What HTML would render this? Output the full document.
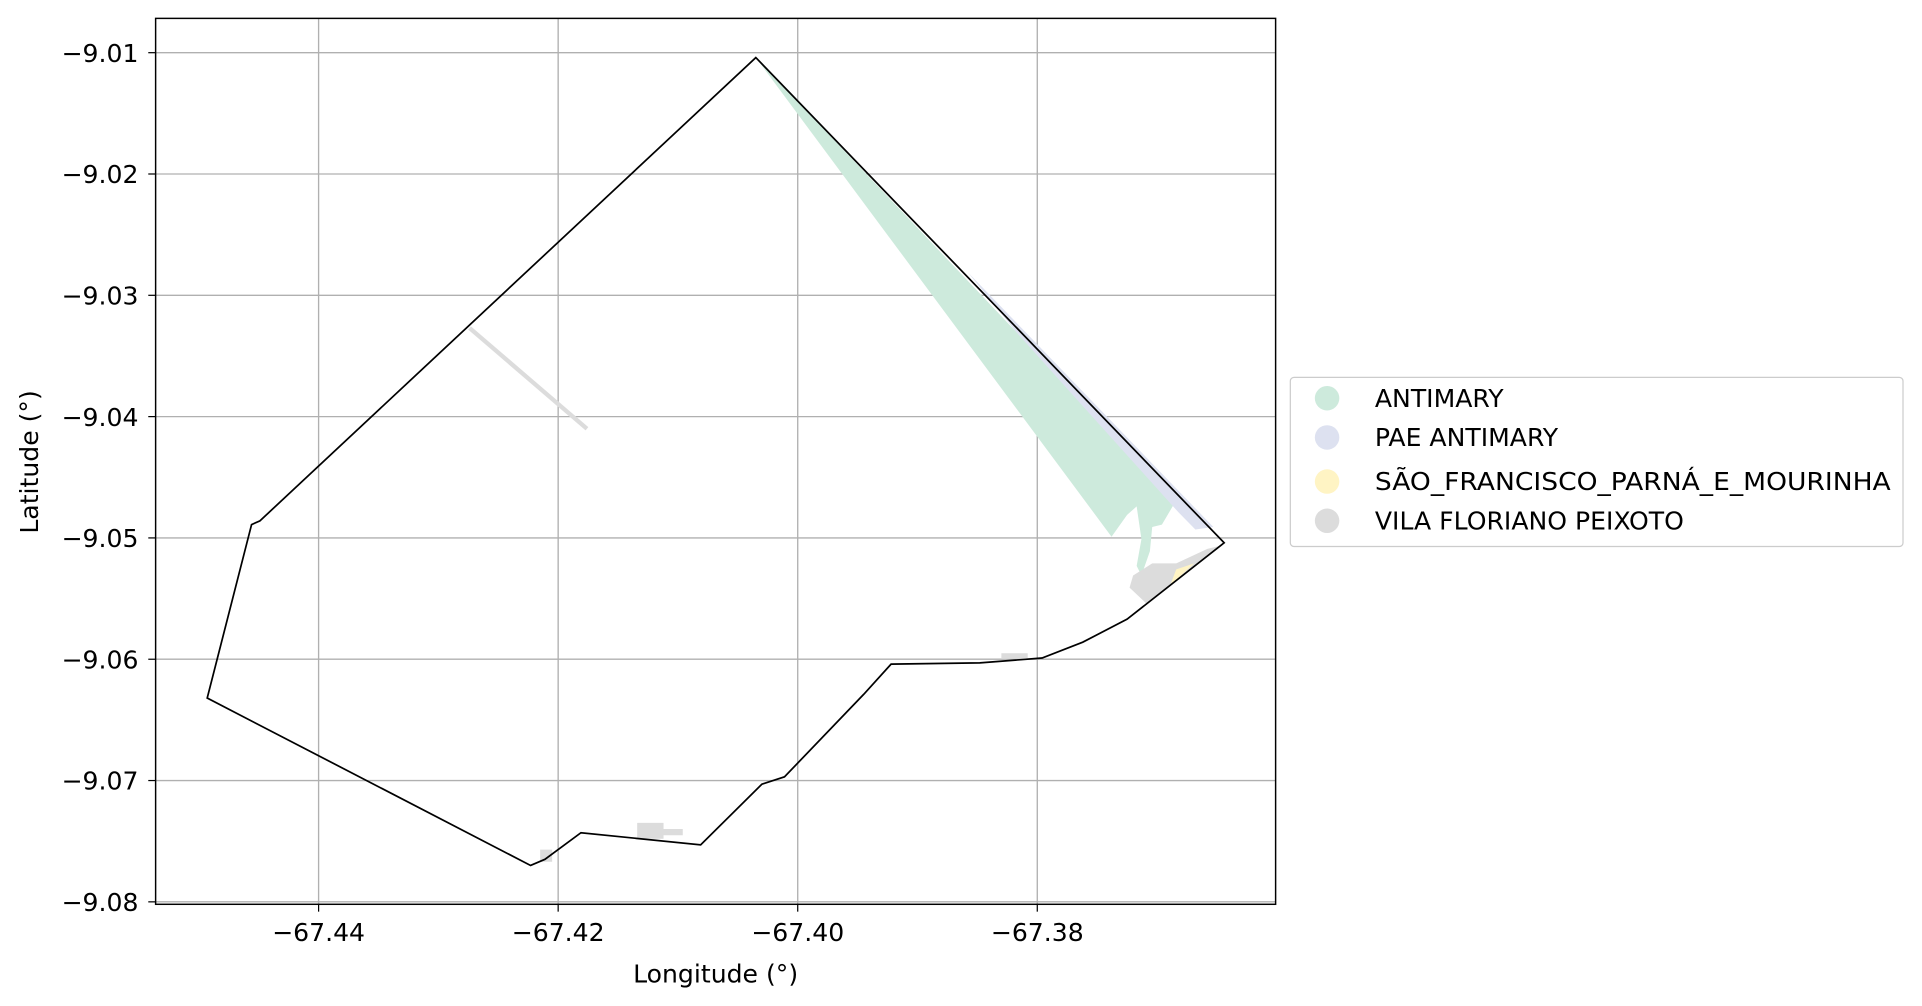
<!DOCTYPE html>
<html><head><meta charset="utf-8"><style>
html,body{margin:0;padding:0;background:#fff;}
svg{display:block;font-family:"DejaVu Sans","Liberation Sans",sans-serif;}
</style></head><body>
<svg id="chart" width="1922" height="1006" viewBox="0 0 1568.5 821" preserveAspectRatio="none" xmlns="http://www.w3.org/2000/svg">
<g id="grid"></g>
<g id="areas"></g>
<g id="ticks"></g>
<rect x="127" y="15" width="914" height="723" fill="none" stroke="#000" stroke-width="1.2"/>
<text x="584" y="802" font-size="20.5" text-anchor="middle">Longitude (°)</text>
<text transform="translate(31,377) rotate(-90)" font-size="20.5" text-anchor="middle">Latitude (°)</text>
<g>
<rect x="1053" y="308" width="500" height="138" rx="3" fill="#fff" stroke="#ccc"/>
<g><circle cx="1083" cy="325" r="10" fill="#cdeadc"/><text x="1122" y="332" font-size="20.5">ANTIMARY</text></g>
<g><circle cx="1083" cy="357" r="10" fill="#dde1f0"/><text x="1122" y="364" font-size="20.5">PAE ANTIMARY</text></g>
<g><circle cx="1083" cy="393" r="10" fill="#fff4c4"/><text x="1122" y="400" font-size="20.5" textLength="421" lengthAdjust="spacingAndGlyphs">SÃO_FRANCISCO_PARNÁ_E_MOURINHA</text></g>
<g><circle cx="1083" cy="425" r="10" fill="#dcdcdc"/><text x="1122" y="432" font-size="20.5">VILA FLORIANO PEIXOTO</text></g>
</g>
</svg>
<script>
const xTicks=[-67.44,-67.42,-67.40,-67.38];
const xTickLabels=["−67.44","−67.42","−67.40","−67.38"];
const yTicks=[-9.01,-9.02,-9.03,-9.04,-9.05,-9.06,-9.07,-9.08];
const yTickLabels=["−9.01","−9.02","−9.03","−9.04","−9.05","−9.06","−9.07","−9.08"];
const boundaryLon=[-67.4035,-67.3644,-67.3725,-67.3762,-67.3796,-67.3848,-67.3922,-67.3945,-67.4011,-67.4030,-67.4081,-67.4181,-67.4211,-67.4223,-67.4493,-67.4456,-67.4449];
const boundaryLat=[-9.0104,-9.0504,-9.0567,-9.0586,-9.0599,-9.0603,-9.0604,-9.0629,-9.0697,-9.0703,-9.0753,-9.0743,-9.0765,-9.0770,-9.0632,-9.0489,-9.0486];
const antimaryLon=[-67.4035,-67.3684,-67.3696,-67.3704,-67.3706,-67.3713,-67.3717,-67.3713,-67.3717,-67.3725,-67.3738];
const antimaryLat=[-9.0104,-9.0469,-9.0489,-9.0491,-9.0511,-9.0531,-9.0523,-9.0501,-9.0474,-9.0481,-9.0499];
const paeLon=[-67.3858,-67.3653,-67.3668,-67.3682,-67.3817];
const paeLat=[-9.0281,-9.0491,-9.0493,-9.0479,-9.0331];
const saoLon=[-67.3689,-67.3669,-67.3684];
const saoLat=[-9.0539,-9.0521,-9.0526];
const vilaLon=[-67.3720,-67.3704,-67.3684,-67.3658,-67.3645,-67.3689,-67.3709,-67.3723];
const vilaLat=[-9.0531,-9.0521,-9.0521,-9.0509,-9.0506,-9.0539,-9.0554,-9.0541];
const vilaLineLon=[-67.4274,-67.4176];
const vilaLineLat=[-9.0327,-9.0410];
const vilaBitsLon=[[-67.4215,-67.4205,-67.4205,-67.4215],[-67.4134,-67.4112,-67.4112,-67.4134],[-67.4118,-67.4096,-67.4096,-67.4118],[-67.3830,-67.3808,-67.3808,-67.3830]];
const vilaBitsLat=[[-9.0757,-9.0757,-9.0767,-9.0767],[-9.0735,-9.0735,-9.0748,-9.0748],[-9.0740,-9.0740,-9.0745,-9.0745],[-9.0595,-9.0595,-9.0599,-9.0599]];

const NS="http://www.w3.org/2000/svg";
function x(lon){return 260+(lon+67.44)/0.02*195.5;}
function y(lat){return 43+(-9.01-lat)/0.01*99;}
function mk(tag,attrs,parent){const e=document.createElementNS(NS,tag);for(const k in attrs)e.setAttribute(k,attrs[k]);parent.appendChild(e);return e;}
function pts(lons,lats){return lons.map((l,i)=>x(l).toFixed(1)+","+y(lats[i]).toFixed(1)).join(" ");}
const grid=document.getElementById("grid"),areas=document.getElementById("areas"),ticks=document.getElementById("ticks");
xTicks.forEach((v,i)=>{
  const g=mk("line",{x1:x(v),x2:x(v),y1:15,y2:738,stroke:"#b0b0b0","stroke-width":1.1},grid);
  
  
  const t=mk("line",{x1:x(v),x2:x(v),y1:738,y2:744,stroke:"#000","stroke-width":1},ticks);
  
  
  const l=mk("text",{x:x(v),y:768,"font-size":20.5,"text-anchor":"middle"},ticks);
  l.textContent=xTickLabels[i];
  
  
});
yTicks.forEach((v,i)=>{
  const g=mk("line",{x1:127,x2:1041,y1:y(v),y2:y(v),stroke:"#b0b0b0","stroke-width":1.1},grid);
  
  
  const t=mk("line",{x1:121,x2:127,y1:y(v),y2:y(v),stroke:"#000","stroke-width":1},ticks);
  
  
  const l=mk("text",{x:113,y:y(v)+7.5,"font-size":20.5,"text-anchor":"end"},ticks);
  l.textContent=yTickLabels[i];
  
  
});
const a=mk("polygon",{points:pts(antimaryLon,antimaryLat),fill:"#cdeadc"},areas);


const p=mk("polygon",{points:pts(paeLon,paeLat),fill:"#dde1f0"},areas);


const v=mk("polygon",{points:pts(vilaLon,vilaLat),fill:"#dcdcdc"},areas);


const s=mk("polygon",{points:pts(saoLon,saoLat),fill:"#fff4c4"},areas);


const vl=mk("polyline",{points:pts(vilaLineLon,vilaLineLat),fill:"none",stroke:"#dcdcdc","stroke-width":3.5},areas);


vilaBitsLon.forEach((lons,i)=>{
  const b=mk("polygon",{points:pts(lons,vilaBitsLat[i]),fill:"#dcdcdc"},areas);
  
  
});
const bd=mk("polygon",{points:pts(boundaryLon,boundaryLat),fill:"none",stroke:"#000","stroke-width":1.4},areas);


</script>
</body></html>
